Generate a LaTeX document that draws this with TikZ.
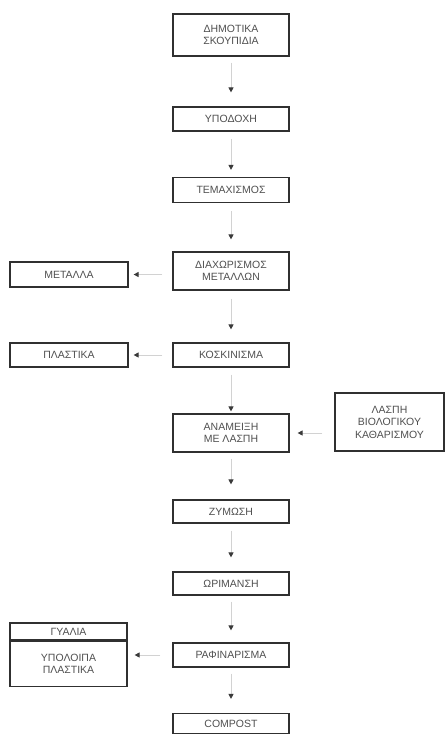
\documentclass[tikz,border=0pt]{standalone}
\usepackage{fontspec}
\setmainfont{Liberation Sans}
\usetikzlibrary{arrows.meta}
\definecolor{boxline}{HTML}{303030}
\definecolor{txt}{HTML}{505050}
\definecolor{arrline}{HTML}{D2D2D2}
\definecolor{arrhead}{HTML}{3A3A3A}
\begin{document}
\begin{tikzpicture}[x=1pt,y=-1pt,
  box/.style={draw=boxline,line width=1.2pt,fill=white,minimum width=116pt,inner sep=0pt,
    align=center,font=\fontsize{10.5}{12.5}\selectfont,text=txt},
  arr/.style={draw=arrline,line width=0.9pt,
    -{Triangle[width=5pt,length=5pt,color=arrhead,fill=arrhead]}},
]
\useasboundingbox (0,0) rectangle (446,734);
% main column
\node[box,minimum height=42pt] (dim) at (231,35) {ΔΗΜΟΤΙΚΑ\\ΣΚΟΥΠΙΔΙΑ};
\node[box,minimum height=24pt] (ypo) at (231,119) {ΥΠΟΔΟΧΗ};
\node[box,minimum height=25pt] (tem) at (231,190) {ΤΕΜΑΧΙΣΜΟΣ};
\node[box,minimum height=38pt] (dia) at (231,271) {ΔΙΑΧΩΡΙΣΜΟΣ\\ΜΕΤΑΛΛΩΝ};
\node[box,minimum height=24pt] (kos) at (231,355) {ΚΟΣΚΙΝΙΣΜΑ};
\node[box,minimum height=38pt] (ana) at (231,433) {ΑΝΑΜΕΙΞΗ\\ΜΕ ΛΑΣΠΗ};
\node[box,minimum height=23pt] (zym) at (231,511.5) {ΖΥΜΩΣΗ};
\node[box,minimum height=23pt] (wri) at (231,583.5) {ΩΡΙΜΑΝΣΗ};
\node[box,minimum height=24pt] (raf) at (231,655) {ΡΑΦΙΝΑΡΙΣΜΑ};
\node[box,minimum height=20pt] (comp) at (231,723.5) {COMPOST};
% side boxes
\node[box,minimum width=118pt,minimum height=25pt] (met) at (69,274.5) {ΜΕΤΑΛΛΑ};
\node[box,minimum width=118pt,minimum height=24pt] (pla) at (69,355) {ΠΛΑΣΤΙΚΑ};
\node[box,minimum width=109pt,minimum height=58pt] (las) at (389.5,422) {ΛΑΣΠΗ\\ΒΙΟΛΟΓΙΚΟΥ\\ΚΑΘΑΡΙΣΜΟΥ};
\node[box,minimum width=117pt,minimum height=17pt] (gtop) at (68.5,631.5) {ΓΥΑΛΙΑ};
\node[box,minimum width=117pt,minimum height=45pt,anchor=north] (gbot) at (gtop.south) {ΥΠΟΛΟΙΠΑ\\ΠΛΑΣΤΙΚΑ};
\coordinate (gin) at (gbot.east |- raf.west);
% vertical arrows
\draw[arr,shorten <=6pt,shorten >=14pt] (dim) -- (ypo);
\draw[arr,shorten <=7pt,shorten >=7pt] (ypo) -- (tem);
\draw[arr,shorten <=8pt,shorten >=12pt] (tem) -- (dia);
\draw[arr,shorten <=8pt,shorten >=13pt] (dia) -- (kos);
\draw[arr,shorten <=7pt,shorten >=2pt] (kos) -- (ana);
\draw[arr,shorten <=6pt,shorten >=15pt] (ana) -- (zym);
\draw[arr,shorten <=7pt,shorten >=14pt] (zym) -- (wri);
\draw[arr,shorten <=6pt,shorten >=12pt] (wri) -- (raf);
\draw[arr,shorten <=6pt,shorten >=14pt] (raf) -- (comp);
% horizontal arrows
\draw[arr,shorten <=10pt,shorten >=5pt] (dia.west |- met.east) -- (met.east);
\draw[arr,shorten <=10pt,shorten >=5pt] (kos.west) -- (pla.east);
\draw[arr,shorten <=12pt,shorten >=8pt] (las.west |- ana.east) -- (ana.east);
\draw[arr,shorten <=12pt,shorten >=7pt] (raf.west) -- (gin);
\end{tikzpicture}
\end{document}
